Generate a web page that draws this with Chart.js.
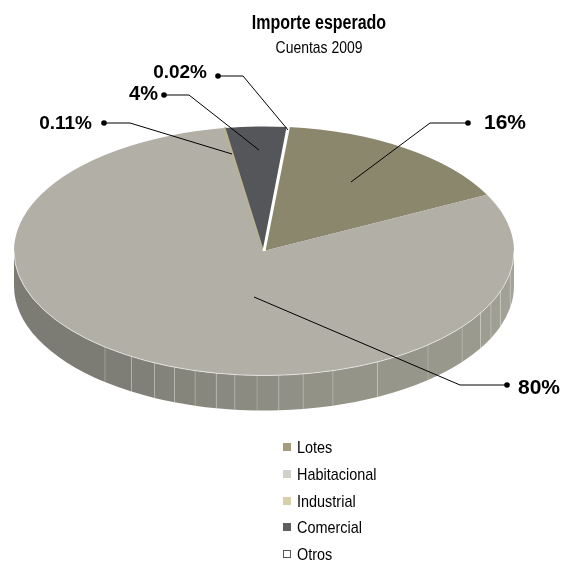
<!DOCTYPE html>
<html>
<head>
<meta charset="utf-8">
<title>Importe esperado</title>
<script src="https://cdn.jsdelivr.net/npm/chart.js@4"></script>
<style>
  html, body { margin: 0; padding: 0; background: #fff; }
  canvas { display: block; }
</style>
</head>
<body>
<canvas id="chartImporte" width="567" height="561"></canvas>
<script>
const categories = ['Lotes', 'Habitacional', 'Industrial', 'Comercial', 'Otros'];
const importeValues = [16, 80, 0.11, 4, 0.02];
const percentLabels = ['16%', '80%', '0.11%', '4%', '0.02%'];
const sliceColors = ['#8b876c', '#b1afa6', '#b8b393', '#55565a', '#ffffff'];
const legendColors = ['#a29c7c', '#d2d1c8', '#d5d0a9', '#5f5f62', '#ffffff'];
const chartTitle = 'Importe esperado';
const chartSubtitle = 'Cuentas 2009';

// Aspecto del pastel 3D
const squash = 0.498;
const depth = 35;
const wallSeams = [0, 10, 19, 24.8, 30, 37.6, 49, 63, 74, 81, 86.6, 91.6, 96.7, 101, 106, 111, 116, 122, 129.5, 180];
const wallDark = [125, 124, 116];
const wallLight = [164, 163, 151];

// Etiquetas: punto, codo y ancla de cada línea guía
const callouts = [
  { dot: [468, 123], elbow: [430, 123], end: [351, 182], text: [484, 123], size: 21, align: 'left' },
  { dot: [507, 385], elbow: [460, 385], end: [254, 297], text: [518, 394], size: 21, align: 'left', baseline: true },
  { dot: [104, 123], elbow: [130, 123], end: [232, 154], text: [92, 124], size: 19, align: 'right' },
  { dot: [164, 95], elbow: [189, 95], end: [259, 150], text: [158, 94], size: 20, align: 'right' },
  { dot: [218, 76], elbow: [243, 76], end: [288, 130], text: [207, 73], size: 19, align: 'right' }
];

function narrowText(ctx, text, x, y, factor) {
  ctx.save();
  ctx.translate(x, y);
  ctx.scale(factor, 1);
  ctx.fillText(text, 0, 0);
  ctx.restore();
}

const pie3d = {
  id: 'pie3d',
  beforeDatasetsDraw(chart) {
    const ctx = chart.ctx;
    const arc = chart.getDatasetMeta(0).data[0];
    const cx = arc.x, cy = arc.y, rx = arc.outerRadius, ry = rx * squash;

    // pared lateral, por tramos
    for (let i = 0; i < wallSeams.length - 1; i++) {
      const a = wallSeams[i] * Math.PI / 180;
      const b = wallSeams[i + 1] * Math.PI / 180;
      const t = i / (wallSeams.length - 2);
      const c = wallLight.map((v, k) => Math.round(v + (wallDark[k] - v) * t));
      ctx.beginPath();
      ctx.ellipse(cx, cy, rx, ry, 0, a, b);
      ctx.ellipse(cx, cy + depth, rx, ry, 0, b, a, true);
      ctx.closePath();
      ctx.fillStyle = 'rgb(' + c.join(',') + ')';
      ctx.fill();
      if (i > 0) {
        const sx = cx + rx * Math.cos(a), sy = cy + ry * Math.sin(a);
        ctx.beginPath();
        ctx.moveTo(sx, sy);
        ctx.lineTo(sx, sy + depth);
        ctx.strokeStyle = 'rgba(255,255,255,0.22)';
        ctx.lineWidth = 1;
        ctx.stroke();
      }
    }

    ctx.save();
    ctx.translate(0, cy);
    ctx.scale(1, squash);
    ctx.translate(0, -cy);
  },
  afterDatasetsDraw(chart) {
    const ctx = chart.ctx;
    ctx.restore();
    const arc = chart.getDatasetMeta(0).data[0];

    // brillo del borde frontal
    ctx.beginPath();
    ctx.ellipse(arc.x, arc.y, arc.outerRadius, arc.outerRadius * squash, 0, 0, Math.PI);
    ctx.strokeStyle = 'rgba(255,255,255,0.55)';
    ctx.lineWidth = 1;
    ctx.stroke();

    // líneas guía y porcentajes
    callouts.forEach((c, i) => {
      ctx.beginPath();
      ctx.moveTo(c.dot[0], c.dot[1]);
      ctx.lineTo(c.elbow[0], c.elbow[1]);
      ctx.lineTo(c.end[0], c.end[1]);
      ctx.strokeStyle = '#000';
      ctx.lineWidth = 1;
      ctx.stroke();
      ctx.beginPath();
      ctx.arc(c.dot[0], c.dot[1], 2.8, 0, Math.PI * 2);
      ctx.fillStyle = '#000';
      ctx.fill();
      ctx.font = 'bold ' + c.size + 'px "Liberation Sans", Arial, sans-serif';
      ctx.textAlign = c.align;
      ctx.textBaseline = c.baseline ? 'alphabetic' : 'middle';
      ctx.fillText(percentLabels[i], c.text[0], c.text[1]);
    });

    // título
    ctx.fillStyle = '#000';
    ctx.textAlign = 'center';
    ctx.textBaseline = 'alphabetic';
    ctx.font = 'bold 20px "Liberation Sans", Arial, sans-serif';
    narrowText(ctx, chartTitle, 319, 29, 0.8);
    ctx.font = '17px "Liberation Sans", Arial, sans-serif';
    narrowText(ctx, chartSubtitle, 319, 53, 0.82);

    // leyenda
    const rows = [447, 474, 501, 527, 554];
    ctx.textAlign = 'left';
    categories.forEach((name, i) => {
      ctx.fillStyle = legendColors[i];
      ctx.fillRect(283, rows[i] - 4, 8, 8);
      if (i === 4) {
        ctx.strokeStyle = '#555';
        ctx.lineWidth = 1;
        ctx.strokeRect(283.5, rows[i] - 3.5, 7, 7);
      }
      ctx.fillStyle = '#000';
      ctx.font = '17px "Liberation Sans", Arial, sans-serif';
      narrowText(ctx, name, 297, rows[i] + 6, 0.85);
    });
  }
};

new Chart(document.getElementById('chartImporte'), {
  type: 'pie',
  data: {
    labels: categories,
    datasets: [{
      data: importeValues,
      backgroundColor: sliceColors,
      borderColor: ['#8b876c', '#b1afa6', '#b8b393', '#55565a', '#ffffff'],
      borderWidth: [0, 0, 3, 0, 3]
    }]
  },
  options: {
    responsive: false,
    animation: false,
    rotation: 5.6,
    radius: 250,
    layout: { padding: { left: 14, right: 53, top: 1, bottom: 60 } },
    plugins: { legend: { display: false }, title: { display: false }, tooltip: { enabled: false } }
  },
  plugins: [pie3d]
});
</script>
</body>
</html>
